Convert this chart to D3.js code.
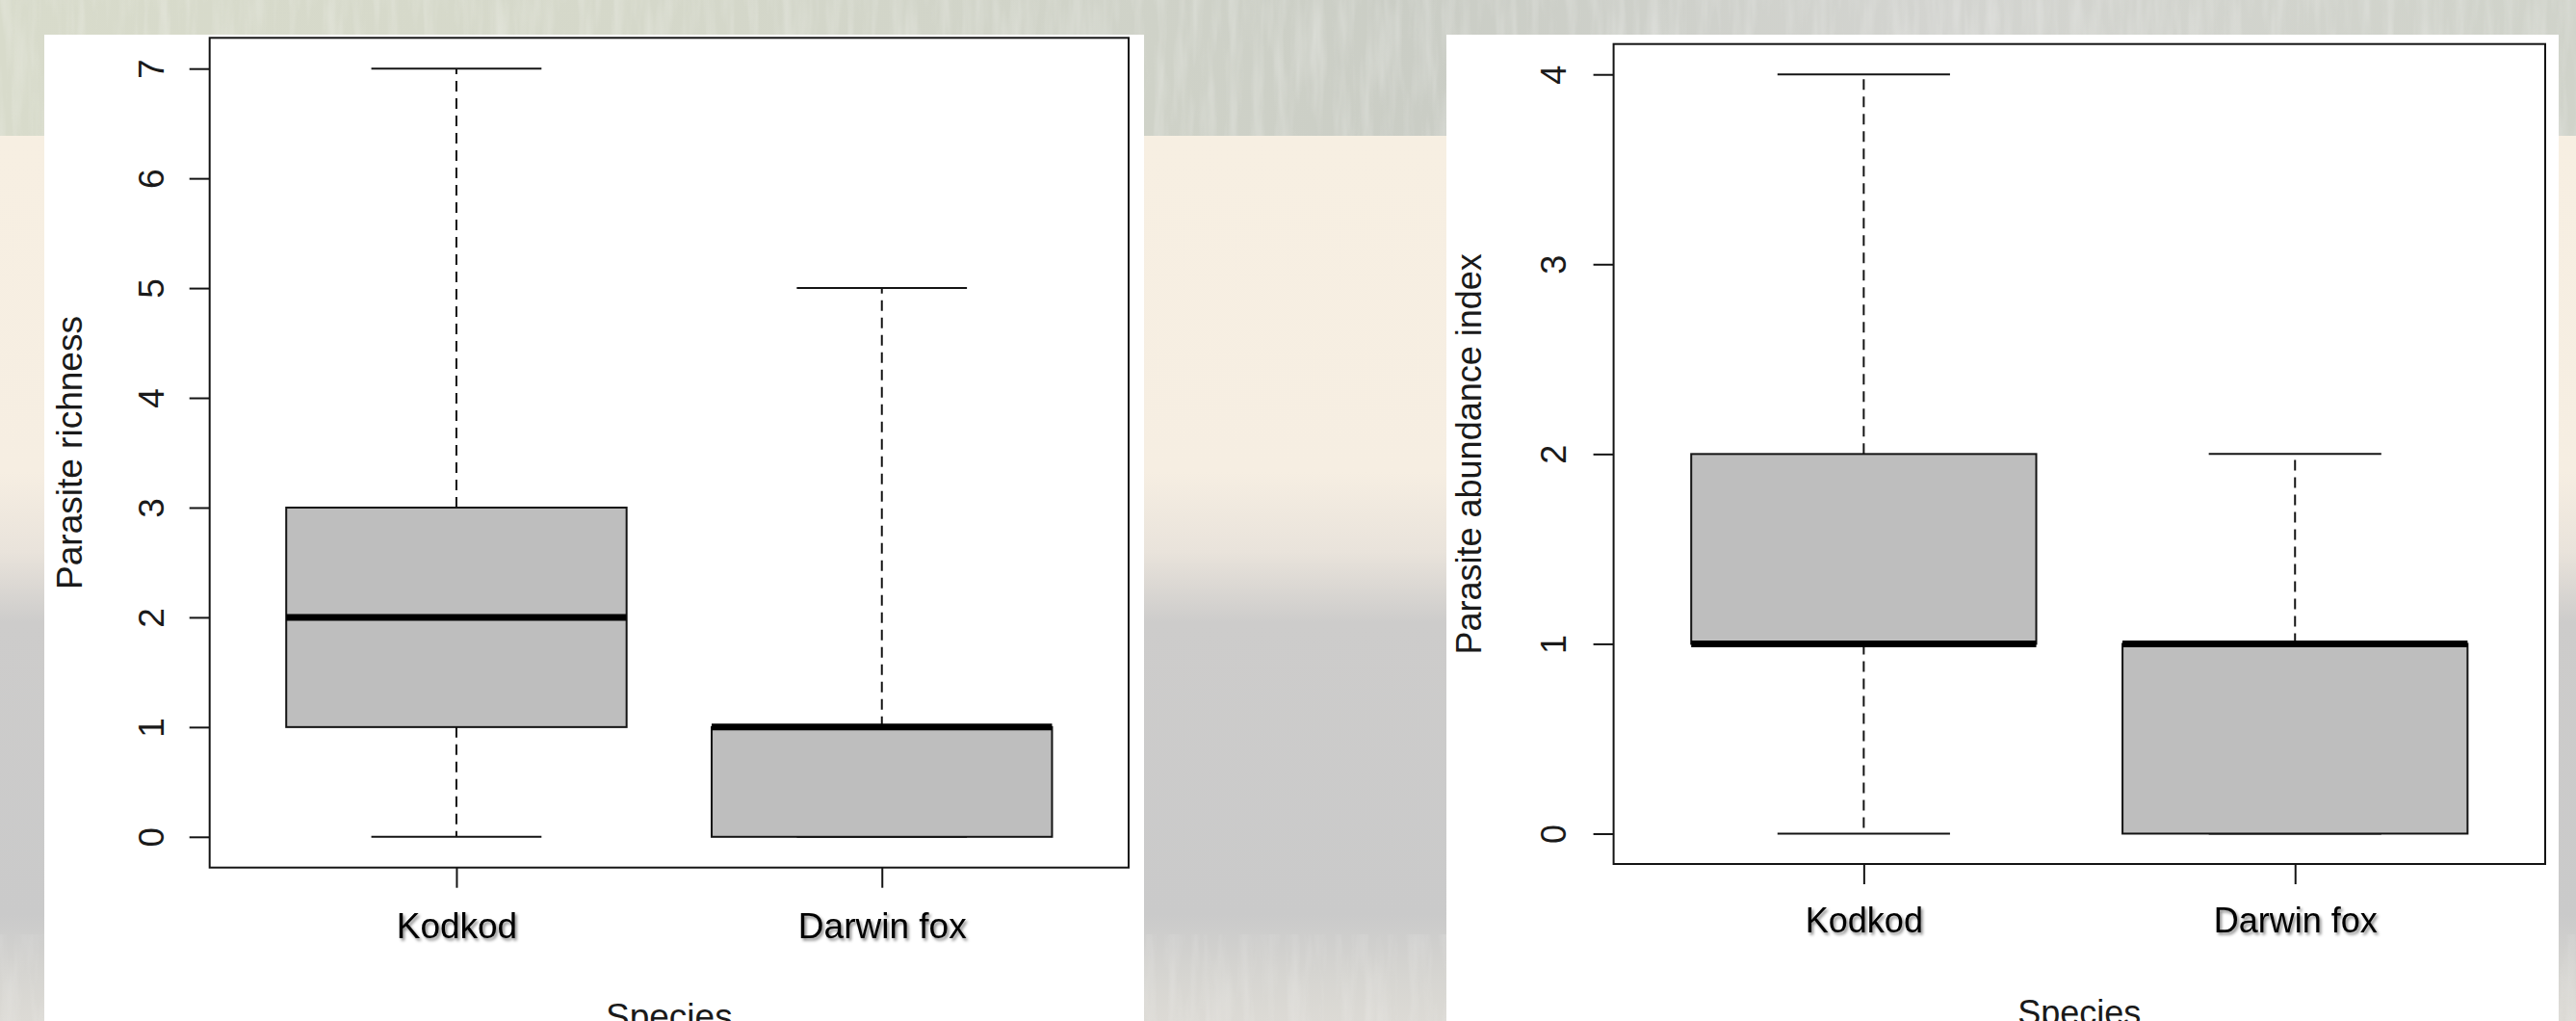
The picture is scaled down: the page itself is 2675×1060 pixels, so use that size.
<!DOCTYPE html>
<html>
<head>
<meta charset="utf-8">
<script src="https://cdn.jsdelivr.net/npm/d3@7"></script>
<style>
  html, body { margin: 0; padding: 0; overflow: hidden; background: #cfd1c9; }
  svg { display: block; }
  text { font-family: "Liberation Sans", Arial, Helvetica, sans-serif; }
</style>
</head>
<body>
<svg id="fig" width="2675" height="1060"></svg>
<script>
// Species compared in both panels
const species = ["Kodkod", "Darwin fox"];

// Parasite richness: five-number summary per species
const richnessLow    = [0, 0];
const richnessQ1     = [1, 0];
const richnessMedian = [2, 1];
const richnessQ3     = [3, 1];
const richnessHigh   = [7, 5];
const richnessTicks  = [0, 1, 2, 3, 4, 5, 6, 7];

// Parasite abundance index: five-number summary per species
const abundanceLow    = [0, 0];
const abundanceQ1     = [1, 0];
const abundanceMedian = [1, 1];
const abundanceQ3     = [2, 1];
const abundanceHigh   = [4, 2];
const abundanceTicks  = [0, 1, 2, 3, 4];

const W = 2675, H = 1060;
const svg = d3.select("#fig");
const defs = svg.append("defs");

// ---------- photographic backdrop (soft grass / sand / rock tones) ----------
const topBand = defs.append("linearGradient").attr("id", "topBand")
  .attr("x1", 0).attr("x2", 1).attr("y1", 0).attr("y2", 0);
[[0, "#d8dbcb"], [0.25, "#d5d8ca"], [0.45, "#cfd2c8"], [0.55, "#cacdc5"],
 [0.75, "#d3d4d0"], [1, "#d0d3ca"]].forEach(([o, c]) =>
  topBand.append("stop").attr("offset", o).attr("stop-color", c));

const lowBand = defs.append("linearGradient").attr("id", "lowBand")
  .attr("x1", 0).attr("x2", 0).attr("y1", 0).attr("y2", 1);
[[0, "#f7efe2"], [0.38, "#f6eee2"], [0.47, "#e9e3db"], [0.55, "#cdcccb"],
 [0.88, "#cacaca"], [0.95, "#d6d5d1"], [1, "#dcdad5"]].forEach(([o, c]) =>
  lowBand.append("stop").attr("offset", o).attr("stop-color", c));

// fine vertical grass-like grain
const grain = defs.append("filter").attr("id", "grain")
  .attr("x", 0).attr("y", 0).attr("width", 1).attr("height", 1);
grain.append("feTurbulence").attr("type", "fractalNoise")
  .attr("baseFrequency", "0.08 0.01").attr("numOctaves", 3).attr("seed", 7);
grain.append("feColorMatrix").attr("type", "matrix")
  .attr("values", "0 0 0 0 1  0 0 0 0 1  0 0 0 0 1  0 0 0 1.1 -0.45");

svg.append("rect").attr("x", 0).attr("y", 141).attr("width", W).attr("height", H - 141)
  .attr("fill", "url(#lowBand)");
svg.append("rect").attr("x", 0).attr("y", 0).attr("width", W).attr("height", 141)
  .attr("fill", "url(#topBand)");
svg.append("rect").attr("x", 0).attr("y", 0).attr("width", W).attr("height", 141)
  .attr("filter", "url(#grain)").attr("opacity", 0.45);
svg.append("rect").attr("x", 0).attr("y", 970).attr("width", W).attr("height", 90)
  .attr("filter", "url(#grain)").attr("opacity", 0.3);

// drop shadow used by the category labels
const shadow = defs.append("filter").attr("id", "labelShadow")
  .attr("x", "-10%").attr("y", "-30%").attr("width", "130%").attr("height", "170%");
shadow.append("feDropShadow").attr("dx", 2).attr("dy", 2.5)
  .attr("stdDeviation", 1.6).attr("flood-color", "#000").attr("flood-opacity", 0.45);

// ---------- one boxplot panel ----------
function drawPanel(p) {
  const g = svg.append("g");

  // white card behind the plot
  g.append("rect").attr("x", p.card[0]).attr("y", p.card[1])
    .attr("width", p.card[2]).attr("height", H - p.card[1] + 10).attr("fill", "#ffffff");

  const [t0, t1] = d3.extent(p.ticks);
  const pad = (t1 - t0) * 0.04;
  const y = d3.scaleLinear().domain([t0 - pad, t1 + pad]).range([p.plot.y1, p.plot.y0]);
  const x = d3.scaleLinear().domain([0.42, species.length + 0.58]).range([p.plot.x0, p.plot.x1]);

  const rows = species.map((name, i) => ({
    name, pos: i + 1,
    lo: p.low[i], q1: p.q1[i], med: p.median[i], q3: p.q3[i], hi: p.high[i]
  }));

  const ink = "#141414";
  const marks = g.append("g");

  // dashed whiskers and their staples
  rows.forEach(r => {
    [[r.q3, r.hi], [r.q1, r.lo]].forEach(([a, b]) => {
      if (a === b) return;
      marks.append("line")
        .attr("x1", x(r.pos)).attr("x2", x(r.pos))
        .attr("y1", y(a)).attr("y2", y(b))
        .attr("stroke", ink).attr("stroke-width", 2)
        .attr("stroke-dasharray", "11,7");
    });
    [r.lo, r.hi].forEach(v => {
      marks.append("line")
        .attr("x1", x(r.pos - 0.2)).attr("x2", x(r.pos + 0.2))
        .attr("y1", y(v)).attr("y2", y(v))
        .attr("stroke", ink).attr("stroke-width", 2);
    });
  });

  // boxes
  marks.selectAll("rect.box").data(rows).join("rect").attr("class", "box")
    .attr("x", d => x(d.pos - 0.4))
    .attr("width", d => x(d.pos + 0.4) - x(d.pos - 0.4))
    .attr("y", d => y(d.q3))
    .attr("height", d => y(d.q1) - y(d.q3))
    .attr("fill", "#bebebe").attr("stroke", ink).attr("stroke-width", 2);

  // medians
  marks.selectAll("line.median").data(rows).join("line").attr("class", "median")
    .attr("x1", d => x(d.pos - 0.4)).attr("x2", d => x(d.pos + 0.4))
    .attr("y1", d => y(d.med)).attr("y2", d => y(d.med))
    .attr("stroke", "#000").attr("stroke-width", 7);

  // y axis with labels set parallel to the axis
  const yAxis = g.append("g").attr("transform", `translate(${p.plot.x0},0)`)
    .call(d3.axisLeft(y).tickValues(p.ticks).tickSize(21).tickFormat(d3.format("d")));
  yAxis.select(".domain").remove();
  yAxis.selectAll(".tick line").attr("stroke", ink).attr("stroke-width", 2);
  yAxis.selectAll(".tick text")
    .attr("x", null).attr("dy", null)
    .attr("transform", `translate(${-p.tickLabelGap},0) rotate(-90)`)
    .attr("text-anchor", "middle")
    .attr("font-size", p.fontSize).attr("fill", "#1a1a1a")
    .style("font-family", "'Liberation Sans', Arial, sans-serif");

  // x axis with species names
  const xAxis = g.append("g").attr("transform", `translate(0,${p.plot.y1})`)
    .call(d3.axisBottom(x).tickValues(rows.map(r => r.pos)).tickSize(21)
      .tickFormat(v => species[v - 1]));
  xAxis.select(".domain").remove();
  xAxis.selectAll(".tick line").attr("stroke", ink).attr("stroke-width", 2);
  xAxis.selectAll(".tick text")
    .attr("y", p.xLabelGap).attr("dy", null)
    .attr("font-size", p.fontSize).attr("fill", "#000")
    .attr("filter", "url(#labelShadow)")
    .style("font-family", "'Liberation Sans', Arial, sans-serif");

  // plot frame
  g.append("rect")
    .attr("x", p.plot.x0).attr("y", p.plot.y0)
    .attr("width", p.plot.x1 - p.plot.x0).attr("height", p.plot.y1 - p.plot.y0)
    .attr("fill", "none").attr("stroke", ink).attr("stroke-width", 2);

  // axis titles
  g.append("text")
    .attr("x", (p.plot.x0 + p.plot.x1) / 2).attr("y", p.xTitleBaseline)
    .attr("text-anchor", "middle").attr("font-size", p.fontSize).attr("fill", "#1a1a1a")
    .text("Species");
  g.append("text")
    .attr("transform", `translate(${p.yTitleBaseline},${(p.plot.y0 + p.plot.y1) / 2}) rotate(-90)`)
    .attr("text-anchor", "middle").attr("font-size", p.fontSize).attr("fill", "#1a1a1a")
    .text(p.yTitle);
}

drawPanel({
  card: [46, 36, 1142],
  plot: { x0: 217.7, x1: 1172, y0: 39.3, y1: 900.7 },
  ticks: richnessTicks,
  low: richnessLow, q1: richnessQ1, median: richnessMedian, q3: richnessQ3, high: richnessHigh,
  yTitle: "Parasite richness",
  fontSize: 37, tickLabelGap: 48, xLabelGap: 73,
  xTitleBaseline: 1068, yTitleBaseline: 85
});

drawPanel({
  card: [1502, 36, 1155],
  plot: { x0: 1675.6, x1: 2643, y0: 45.7, y1: 897 },
  ticks: abundanceTicks,
  low: abundanceLow, q1: abundanceQ1, median: abundanceMedian, q3: abundanceQ3, high: abundanceHigh,
  yTitle: "Parasite abundance index",
  fontSize: 36, tickLabelGap: 50, xLabelGap: 71,
  xTitleBaseline: 1064, yTitleBaseline: 1538
});
</script>
</body>
</html>
